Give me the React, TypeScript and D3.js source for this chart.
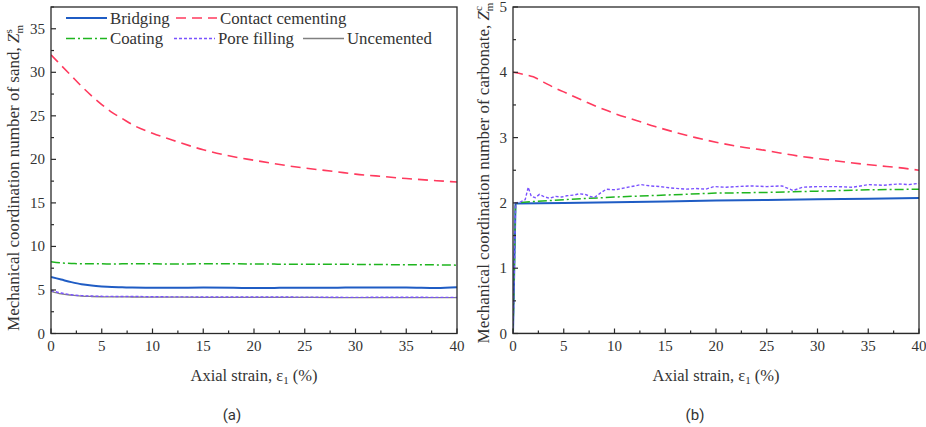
import React from "react";
import * as d3 from "d3";

// ---------- data ----------
const strainA = [0, 1, 2, 3, 4, 5, 6, 7, 8, 10, 12, 15, 18, 20, 22, 25, 28, 30, 32, 35, 38, 40];
const bridgingA = [6.5, 6.2, 5.9, 5.65, 5.5, 5.4, 5.33, 5.3, 5.27, 5.25, 5.25, 5.27, 5.25, 5.22, 5.24, 5.26, 5.26, 5.28, 5.27, 5.28, 5.22, 5.3];
const contactA = [32, 30.8, 29.6, 28.4, 27.3, 26.3, 25.4, 24.7, 24.0, 23.0, 22.2, 21.1, 20.3, 19.9, 19.5, 19.0, 18.6, 18.3, 18.1, 17.8, 17.55, 17.4];
const coatingA = [8.25, 8.1, 8.05, 8.0, 8.0, 8.0, 7.98, 8.0, 8.0, 8.0, 7.98, 8.0, 8.0, 7.98, 7.97, 7.95, 7.95, 7.94, 7.92, 7.9, 7.88, 7.85];
const poreA = [4.95, 4.65, 4.45, 4.35, 4.3, 4.27, 4.26, 4.25, 4.25, 4.22, 4.21, 4.2, 4.2, 4.2, 4.19, 4.18, 4.16, 4.15, 4.16, 4.17, 4.15, 4.15];
const uncementedA = [4.85, 4.55, 4.4, 4.3, 4.25, 4.22, 4.2, 4.2, 4.19, 4.18, 4.17, 4.16, 4.16, 4.15, 4.15, 4.14, 4.13, 4.12, 4.12, 4.13, 4.12, 4.12];

const strainContactB = [0, 1, 2, 3, 4, 5, 6, 7, 8, 9, 10, 12, 14, 16, 18, 20, 22, 25, 28, 30, 33, 36, 38, 40];
const contactB = [4.0, 3.97, 3.93, 3.85, 3.77, 3.7, 3.63, 3.56, 3.49, 3.43, 3.37, 3.27, 3.17, 3.08, 3.0, 2.93, 2.87, 2.8, 2.72, 2.68, 2.62, 2.57, 2.54, 2.5];
const strainBridgingB = [0, 0.25, 5, 10, 15, 20, 25, 30, 35, 40];
const bridgingB = [0, 1.99, 2.0, 2.01, 2.02, 2.035, 2.045, 2.055, 2.065, 2.075];
const strainCoatingB = [0, 0.25, 2, 5, 10, 15, 20, 25, 30, 35, 40];
const coatingB = [0, 2.0, 2.02, 2.05, 2.09, 2.12, 2.15, 2.16, 2.18, 2.2, 2.21];
const strainPoreB = [0, 0.25, 0.8, 1.2, 1.5, 1.8, 2.2, 2.6, 3.0, 3.6, 4.2, 4.8, 5.3, 6.0, 6.5, 7.1, 7.6, 8.0, 8.6, 9.2, 10.1, 11.0, 12.0, 12.6, 13.5, 14.5, 15.5, 17, 18, 19, 19.8, 21, 22, 23.5, 25, 26.5, 27.6, 28.5, 30, 31.8, 33.5, 35, 36.5, 38, 39, 40];
const poreB = [0, 2.0, 2.02, 2.05, 2.24, 2.1, 2.08, 2.13, 2.1, 2.07, 2.1, 2.09, 2.11, 2.12, 2.14, 2.13, 2.1, 2.08, 2.15, 2.21, 2.2, 2.23, 2.26, 2.28, 2.26, 2.25, 2.23, 2.21, 2.22, 2.21, 2.25, 2.24, 2.25, 2.26, 2.25, 2.26, 2.19, 2.24, 2.25, 2.25, 2.24, 2.28, 2.27, 2.29, 2.28, 2.3];
const strainUncementedB = [0, 40];
const uncementedB = [0, 0];

const xTicks = [0, 5, 10, 15, 20, 25, 30, 35, 40];
const yTicksA = [0, 5, 10, 15, 20, 25, 30, 35];
const yTicksB = [0, 1, 2, 3, 4, 5];

// ---------- styles ----------
const C_BLUE = "#1f5cc4";
const C_RED = "#ff3a5e";
const C_GREEN = "#1fb51f";
const C_PURPLE = "#7a52ff";
const C_GRAY = "#808080";
const SERIF = "'Liberation Serif', 'Times New Roman', serif";

const TOP = 7;
const BOTTOM = 333.5;

type Series = { xs: number[]; ys: number[]; color: string; dash?: string; width: number; curve?: any };

function Panel({ x0, x1, yMax, yTicks, yMinorStep, series }: { x0: number; x1: number; yMax: number; yTicks: number[]; yMinorStep: number; series: Series[] }) {
  const x = d3.scaleLinear().domain([0, 40]).range([x0, x1]);
  const y = d3.scaleLinear().domain([0, yMax]).range([BOTTOM, TOP]);
  const xMinor = xTicks.slice(0, -1).map((t) => t + 2.5);
  const yMinor = yTicks.slice(0, -1).map((t) => t + yMinorStep);
  if (yTicks[yTicks.length - 1] + yMinorStep <= yMax + 1e-9) yMinor.push(yTicks[yTicks.length - 1] + yMinorStep);
  return (
    <g>
      <defs>
        <clipPath id={`clip${x0}`}>
          <rect x={x0} y={TOP} width={x1 - x0} height={BOTTOM - TOP} />
        </clipPath>
      </defs>
      <g clipPath={`url(#clip${x0})`}>
        {series.map((s, i) => {
          const line = d3
            .line<number>()
            .x((_, j) => x(s.xs[j]))
            .y((v) => y(v))
            .curve(s.curve || d3.curveMonotoneX);
          return <path key={i} d={line(s.ys) || ""} fill="none" stroke={s.color} strokeWidth={s.width} strokeDasharray={s.dash} />;
        })}
      </g>
      <rect x={x0} y={TOP} width={x1 - x0} height={BOTTOM - TOP} fill="none" stroke="#2a2a2a" strokeWidth={1.3} />
      {xTicks.map((t) => (
        <g key={"xt" + t}>
          <line x1={x(t)} x2={x(t)} y1={BOTTOM} y2={BOTTOM - 5} stroke="#2a2a2a" strokeWidth={1.2} />
          <text x={x(t)} y={351} textAnchor="middle" fontFamily={SERIF} fontSize={15} fill="#333">
            {t}
          </text>
        </g>
      ))}
      {xMinor.map((t) => (
        <line key={"xm" + t} x1={x(t)} x2={x(t)} y1={BOTTOM} y2={BOTTOM - 3} stroke="#2a2a2a" strokeWidth={1.2} />
      ))}
      {yTicks.map((t) => (
        <g key={"yt" + t}>
          <line x1={x0} x2={x0 + 5} y1={y(t)} y2={y(t)} stroke="#2a2a2a" strokeWidth={1.2} />
          <text x={x0 - 6} y={y(t) + 5} textAnchor="end" fontFamily={SERIF} fontSize={15} fill="#333">
            {t}
          </text>
        </g>
      ))}
      {yMinor.map((t) => (
        <line key={"ym" + t} x1={x0} x2={x0 + 3} y1={y(t)} y2={y(t)} stroke="#2a2a2a" strokeWidth={1.2} />
      ))}
      <text x={(x0 + x1) / 2} y={381} textAnchor="middle" fontFamily={SERIF} fontSize={16.5} fill="#333">
        Axial strain, ε<tspan fontSize={11} dy={3}>1</tspan>
        <tspan dy={-3}> (%)</tspan>
      </text>
    </g>
  );
}

function LegendItem({ x, y, color, dash, width, label }: { x: number; y: number; color: string; dash?: string; width: number; label: string }) {
  return (
    <g>
      <line x1={x} x2={x + 41} y1={y} y2={y} stroke={color} strokeWidth={width} strokeDasharray={dash} />
      <text x={x + 44} y={y + 5.5} fontFamily={SERIF} fontSize={16.8} fill="#333">
        {label}
      </text>
    </g>
  );
}

export default function App() {
  const seriesA: Series[] = [
    { xs: strainA, ys: uncementedA, color: C_GRAY, width: 1.3 },
    { xs: strainA, ys: poreA, color: C_PURPLE, dash: "3,2", width: 1.4 },
    { xs: strainA, ys: coatingA, color: C_GREEN, dash: "9,3,2,3", width: 1.5 },
    { xs: strainA, ys: bridgingA, color: C_BLUE, width: 2 },
    { xs: strainA, ys: contactA, color: C_RED, dash: "10,6", width: 1.6 },
  ];
  const seriesB: Series[] = [
    { xs: strainUncementedB, ys: uncementedB, color: C_GRAY, width: 1.3, curve: d3.curveLinear },
    { xs: strainBridgingB, ys: bridgingB, color: C_BLUE, width: 2, curve: d3.curveLinear },
    { xs: strainCoatingB, ys: coatingB, color: C_GREEN, dash: "9,3,2,3", width: 1.5, curve: d3.curveLinear },
    { xs: strainPoreB, ys: poreB, color: C_PURPLE, dash: "3,2", width: 1.4, curve: d3.curveLinear },
    { xs: strainContactB, ys: contactB, color: C_RED, dash: "10,6", width: 1.6 },
  ];
  return (
    <svg width={926} height={427} style={{ position: "absolute", left: 0, top: 0, background: "#fff" }}>
      <rect width={926} height={427} fill="#fff" />
      <Panel x0={51} x1={457} yMax={37.5} yTicks={yTicksA} yMinorStep={2.5} series={seriesA} />
      <Panel x0={513} x1={919} yMax={5} yTicks={yTicksB} yMinorStep={0.5} series={seriesB} />

      <LegendItem x={66} y={18} color={C_BLUE} width={2} label="Bridging" />
      <LegendItem x={176} y={18} color={C_RED} dash="10,6" width={1.6} label="Contact cementing" />
      <LegendItem x={66} y={38.5} color={C_GREEN} dash="9,3,2,3" width={1.5} label="Coating" />
      <LegendItem x={174} y={38.5} color={C_PURPLE} dash="3,2" width={1.4} label="Pore filling" />
      <LegendItem x={303} y={38.5} color={C_GRAY} width={1.3} label="Uncemented" />

      <text transform="translate(19,178) rotate(-90)" textAnchor="middle" fontFamily={SERIF} fontSize={17} fill="#333">
        Mechanical coordination number of sand, <tspan fontStyle="italic">Z</tspan>
        <tspan fontSize={11} dy={-7}>s</tspan>
        <tspan fontSize={11} dx={-4.3} dy={11}>m</tspan>
      </text>
      <text transform="translate(489,173) rotate(-90)" textAnchor="middle" fontFamily={SERIF} fontSize={17} fill="#333">
        Mechanical coordination number of carbonate, <tspan fontStyle="italic">Z</tspan>
        <tspan fontSize={11} dy={-7}>c</tspan>
        <tspan fontSize={11} dx={-4.9} dy={11}>m</tspan>
      </text>

      <text x={232} y={420} textAnchor="middle" fontFamily="Roboto, 'Liberation Sans', sans-serif" fontSize={15} fill="#333">
        (a)
      </text>
      <text x={695} y={420} textAnchor="middle" fontFamily="Roboto, 'Liberation Sans', sans-serif" fontSize={15} fill="#333">
        (b)
      </text>
    </svg>
  );
}
